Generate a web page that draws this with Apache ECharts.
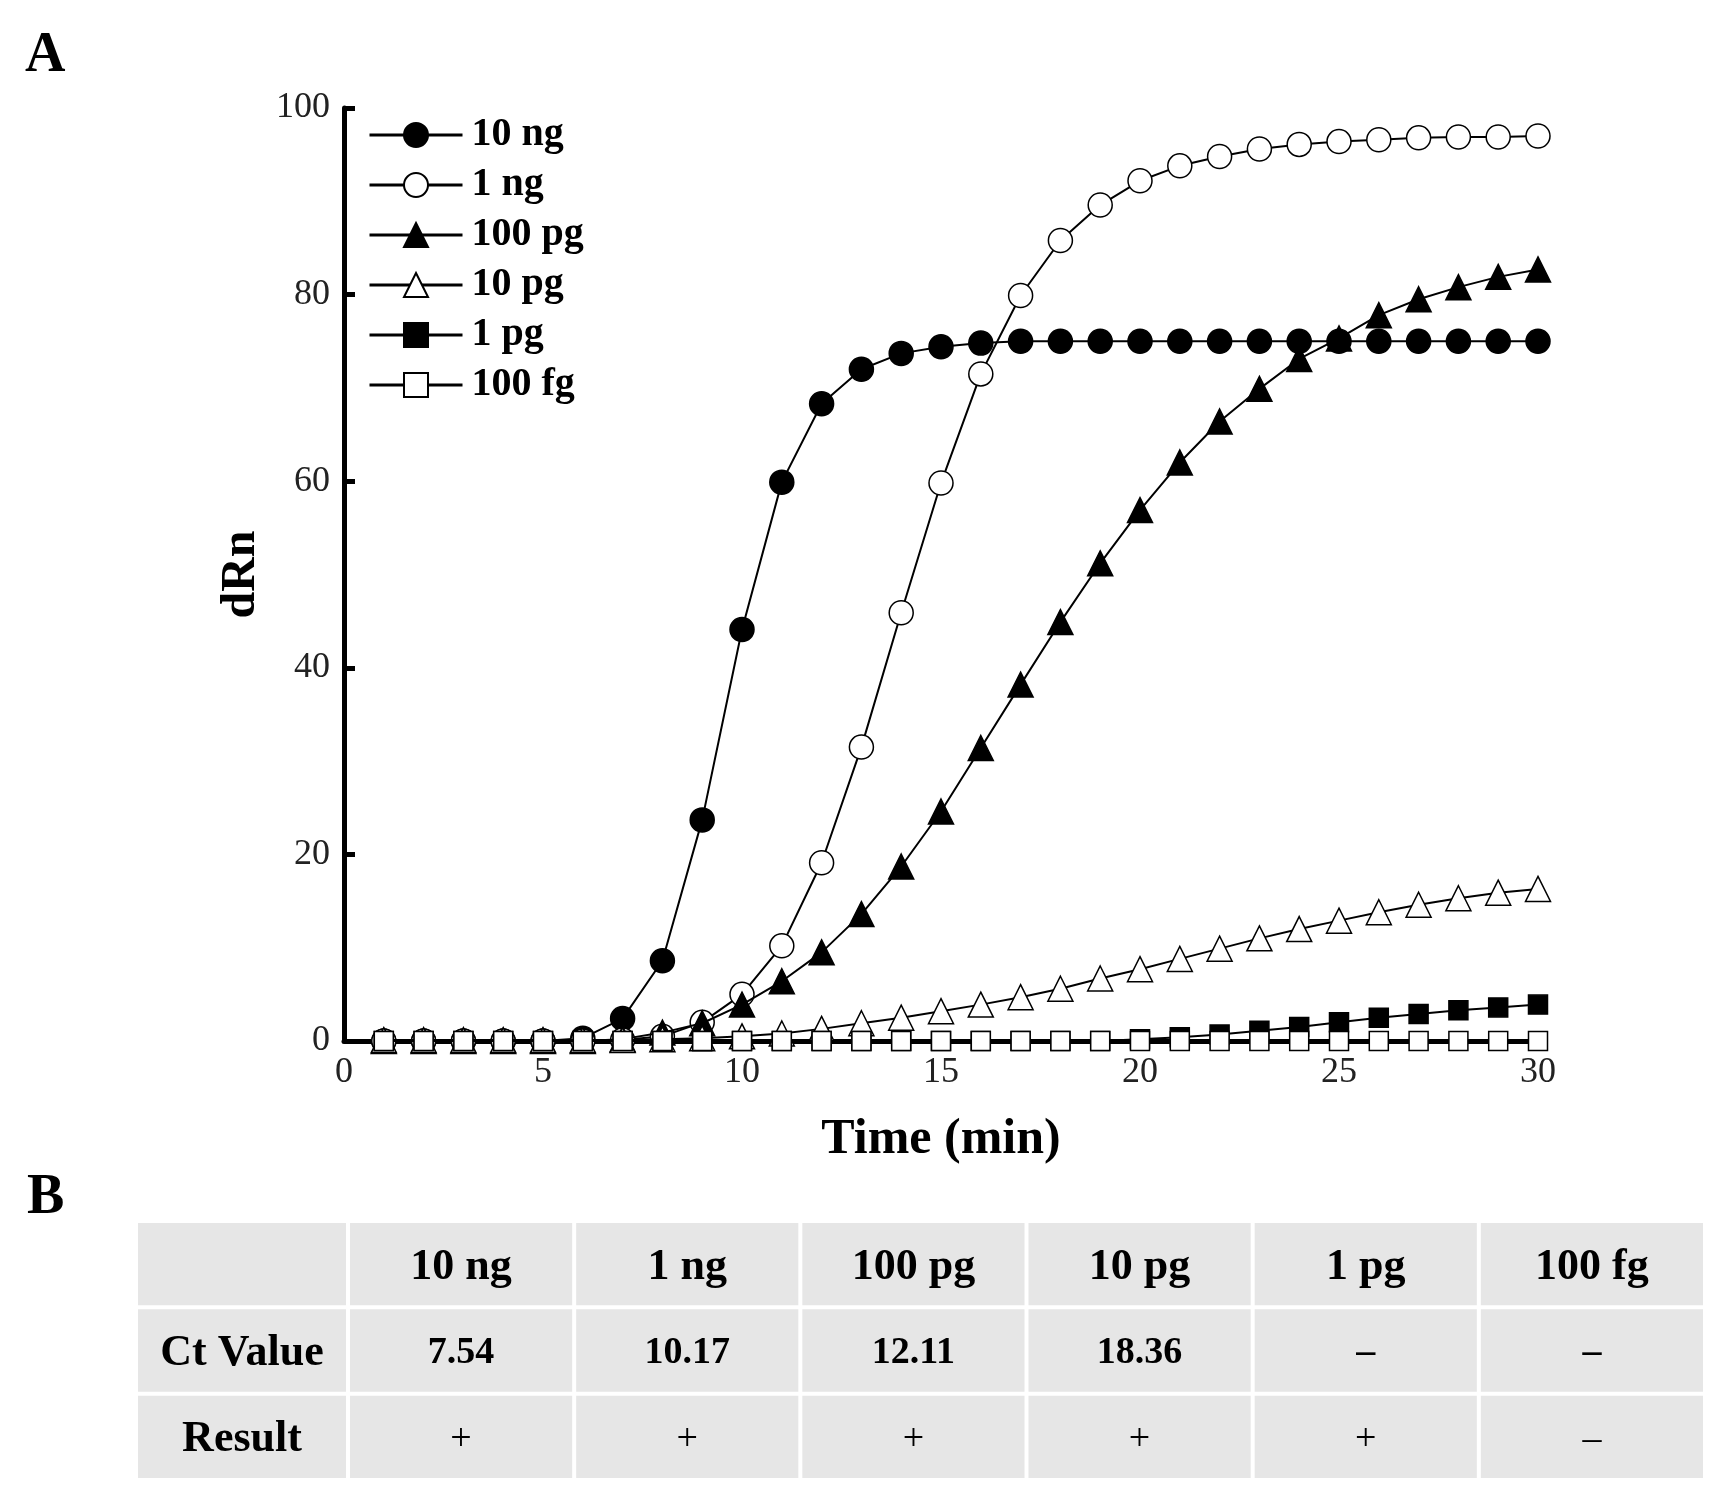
<!DOCTYPE html>
<html><head><meta charset="utf-8">
<script src="https://cdn.jsdelivr.net/npm/echarts@6/dist/echarts.min.js"></script>
<style>html,body{margin:0;padding:0;background:#fff}#c{width:1728px;height:1511px}</style>
</head><body><div id="c"></div>
<script>
const time = [1,2,3,4,5,6,7,8,9,10,11,12,13,14,15,16,17,18,19,20,21,22,23,24,25,26,27,28,29,30];
const s10ng  = [0,0,0,0,0,0.3,2.4,8.6,23.7,44.1,59.9,68.3,72.0,73.7,74.4,74.8,75.0,75.0,75.0,75.0,75.0,75.0,75.0,75.0,75.0,75.0,75.0,75.0,75.0,75.0];
const s1ng   = [0,0,0,0,0,0,0.1,0.5,2.0,5.0,10.2,19.1,31.5,45.9,59.8,71.5,79.9,85.8,89.6,92.2,93.8,94.8,95.6,96.1,96.4,96.6,96.8,96.9,96.9,97.0];
const s100pg = [0,0,0,0,0,0,0.2,0.9,1.9,3.9,6.4,9.5,13.6,18.7,24.6,31.4,38.2,44.9,51.2,56.9,62.0,66.4,69.9,73.1,75.3,77.8,79.5,80.8,81.9,82.7];
const s10pg  = [0.1,0.1,0.1,0.1,0.1,0.1,0.1,0.2,0.3,0.5,0.8,1.3,1.9,2.5,3.2,3.9,4.7,5.6,6.7,7.7,8.8,9.9,11.0,12.0,12.9,13.8,14.6,15.3,15.9,16.3];
const s1pg   = [0,0,0,0,0,0,0,0,0,0,0,0,0,0,0,0,0,0,0,0.2,0.4,0.7,1.1,1.5,2.0,2.5,2.9,3.3,3.6,3.9];
const s100fg = [0,0,0,0,0,0,0,0,0,0,0,0,0,0,0,0,0,0,0,0,0,0,0,0,0,0,0,0,0,0];
const seriesNames = ['10 ng','1 ng','100 pg','10 pg','1 pg','100 fg'];
const xTicks = [0,5,10,15,20,25,30];
const yTicks = [0,20,40,60,80,100];

const tableCols = ['10 ng','1 ng','100 pg','10 pg','1 pg','100 fg'];
const rowLabels = ['', 'Ct Value', 'Result'];
const ctValues = ['7.54','10.17','12.11','18.36','\u2013','\u2013'];
const results = ['+','+','+','+','+','\u2013'];

const FONT = '"Liberation Serif","Times New Roman",serif';
const values = [s10ng, s1ng, s100pg, s10pg, s1pg, s100fg];
const symbols = ['circle','circle','triangle','triangle','rect','rect'];
const filled = [true,false,true,false,true,false];
const sizes = [24,24,25,25,19,19];

const lineSeries = values.map((v, k) => ({
  name: seriesNames[k],
  type: 'line',
  xAxisIndex: 0, yAxisIndex: 0,
  data: v.map((y, i) => [time[i], y]),
  symbol: symbols[k],
  symbolSize: sizes[k],
  showSymbol: true,
  lineStyle: {color: '#000', width: 2},
  itemStyle: {color: filled[k] ? '#000' : '#fff', borderColor: '#000', borderWidth: 1.5},
  z: 3 + k
}));

// table cells: label column (grid 1) and data columns (grid 2)
const labelCells = rowLabels.map((t, r) => [0, r, t, 'head']);
const dataCells = [];
tableCols.forEach((t, c) => dataCells.push([c, 0, t, 'head']));
ctValues.forEach((t, c) => dataCells.push([c, 1, t, 'val']));
results.forEach((t, c) => dataCells.push([c, 2, t, 'res']));

function makeRender(cells) {
  return function (params, api) {
    const p = api.coord([api.value(0), api.value(1)]);
    const sz = api.size([1, 1]);
    const kind = cells[params.dataIndex][3];
    const txt = cells[params.dataIndex][2];
    const fs = kind === 'head' ? 44 : 38;
    const fw = kind === 'res' ? 'normal' : 'bold';
    return {
      type: 'group',
      children: [{
        type: 'rect',
        shape: {x: p[0] - sz[0] / 2 + 2, y: p[1] - sz[1] / 2 + 2, width: sz[0] - 4, height: sz[1] - 4},
        style: {fill: '#e6e6e6'}
      }, {
        type: 'text',
        style: {x: p[0], y: p[1] + 3, text: txt, fill: '#000', font: fw + ' ' + fs + 'px ' + FONT, align: 'center', verticalAlign: 'middle'}
      }]
    };
  };
}

const tableSeries = [
  {type: 'custom', xAxisIndex: 1, yAxisIndex: 1, data: labelCells, renderItem: makeRender(labelCells)},
  {type: 'custom', xAxisIndex: 2, yAxisIndex: 2, data: dataCells, renderItem: makeRender(dataCells)}
];

const chart = echarts.init(document.getElementById('c'), null, {renderer: 'canvas'});
chart.setOption({
  animation: false,
  backgroundColor: '#fff',
  title: [
    {text: 'A', left: 20, top: 24, textStyle: {fontFamily: FONT, fontSize: 56, fontWeight: 'bold', color: '#000'}},
    {text: 'B', left: 22, top: 1166, textStyle: {fontFamily: FONT, fontSize: 56, fontWeight: 'bold', color: '#000'}}
  ],
  legend: {
    data: seriesNames,
    orient: 'vertical',
    left: 363, top: 110,
    itemWidth: 93, itemHeight: 30, itemGap: 10,
    textStyle: {fontFamily: FONT, fontSize: 40, fontWeight: 'bold', color: '#000', padding: [0, 0, 0, 4]},
    lineStyle: {width: 3}
  },
  grid: [
    {left: 344, right: 190, top: 108, bottom: 470, containLabel: false},
    {left: 136, width: 212, top: 1221, bottom: 31, containLabel: false},
    {left: 348, right: 23, top: 1221, bottom: 31, containLabel: false}
  ],
  xAxis: [{
    type: 'value', gridIndex: 0, min: 0, max: 30, interval: 5,
    name: 'Time (min)', nameLocation: 'middle', nameGap: 74,
    nameTextStyle: {fontFamily: FONT, fontSize: 50, fontWeight: 'bold', color: '#000'},
    axisLine: {show: true, lineStyle: {color: '#000', width: 5}},
    axisTick: {show: false},
    splitLine: {show: false},
    axisLabel: {fontFamily: FONT, fontSize: 36, color: '#222', margin: 14,
      formatter: v => xTicks.includes(v) ? String(v) : ''}
  }, {
    type: 'category', gridIndex: 1, data: [0], show: false
  }, {
    type: 'category', gridIndex: 2, data: tableCols.map((_, i) => i), show: false
  }],
  yAxis: [{
    type: 'value', gridIndex: 0, min: 0, max: 100, interval: 20,
    name: 'dRn', nameLocation: 'middle', nameGap: 78, nameRotate: 90,
    nameTextStyle: {fontFamily: FONT, fontSize: 48, fontWeight: 'bold', color: '#000'},
    axisLine: {show: true, lineStyle: {color: '#000', width: 5}},
    axisTick: {show: true, inside: true, length: 11, lineStyle: {color: '#000', width: 5}},
    splitLine: {show: false},
    axisLabel: {fontFamily: FONT, fontSize: 36, color: '#222', margin: 14,
      formatter: v => yTicks.includes(v) ? String(v) : ''}
  }, {
    type: 'category', gridIndex: 1, data: rowLabels.map((_, i) => i), inverse: true, show: false
  }, {
    type: 'category', gridIndex: 2, data: rowLabels.map((_, i) => i), inverse: true, show: false
  }],
  series: lineSeries.concat(tableSeries)
});
</script></body></html>
